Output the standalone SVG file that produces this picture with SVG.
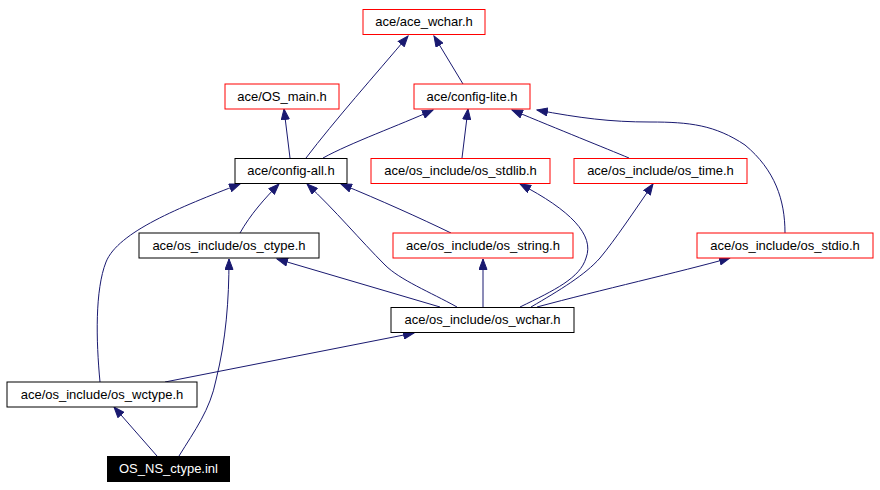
<svg xmlns="http://www.w3.org/2000/svg" width="880" height="490" viewBox="0 0 880 490">
<style>
.n rect{fill:#fff;stroke:#000;stroke-width:1}
.n.r rect{stroke:#f00}
.n text{font-family:"Liberation Sans",Arial,sans-serif;font-size:13px;text-anchor:middle;fill:#000}
#n_osnsctype rect{fill:#000;stroke:#000}
#n_osnsctype text{fill:#fff}
.e path{fill:none;stroke:#191970;stroke-width:1;marker-end:url(#ah)}
</style>
<defs>
<marker id="ah" markerUnits="userSpaceOnUse" markerWidth="12" markerHeight="9" refX="11" refY="4.5" orient="auto">
<path d="M0.5,0.5 L11,4.5 L0.5,8.5 z" fill="#191970" stroke="#191970" stroke-width="1"/>
</marker>
</defs>
<rect width="880" height="490" fill="#fff"/>
<g id="edges" class="e">
<path d="M306,158 C335,120 375,75 408,36"/>
<path d="M463,84 L434,36"/>
<path d="M290,158 L284,109"/>
<path d="M323,158 C350,143 400,125 433,110"/>
<path d="M462,158 L468,109"/>
<path d="M629,158 C605,148 560,130 512,110"/>
<path d="M785,233 C785,200 775,170 745,145 C715,125 690,122 650,122 C610,122 580,118 537,110"/>
<path d="M240,233 C250,215 265,198 279,184"/>
<path d="M100,382 C96,340 95,290 106,262 C118,232 180,207 240,184"/>
<path d="M457,307 C430,292 400,280 385,265 C360,240 335,210 307,184"/>
<path d="M451,233 C420,218 380,200 341,184"/>
<path d="M440,307 L277,259"/>
<path d="M483,307 L483,259"/>
<path d="M520,307 C555,290 580,278 586,258 C595,235 570,210 520,184"/>
<path d="M531,307 C560,290 585,275 600,258 C615,240 635,210 653,184"/>
<path d="M537,307 C600,290 680,272 730,258"/>
<path d="M165,382 L414,333"/>
<path d="M157,456 L114,407"/>
<path d="M179,456 C195,430 210,410 216,380 C226,340 229,300 229,259"/>
</g>
<g id="n_acewchar" class="n r"><rect x="363" y="9.5" width="122" height="25"/><text x="424" y="26">ace/ace_wchar.h</text></g>
<g id="n_osmain" class="n r"><rect x="225" y="84" width="114" height="25"/><text x="282" y="101">ace/OS_main.h</text></g>
<g id="n_configlite" class="n r"><rect x="414" y="84" width="116" height="25"/><text x="472" y="101">ace/config-lite.h</text></g>
<g id="n_configall" class="n"><rect x="235" y="158.5" width="112" height="25"/><text x="291" y="175">ace/config-all.h</text></g>
<g id="n_osstdlib" class="n r"><rect x="371" y="158.5" width="179" height="25"/><text x="460.5" y="175">ace/os_include/os_stdlib.h</text></g>
<g id="n_ostime" class="n r"><rect x="574" y="158.5" width="173" height="25"/><text x="660.5" y="175">ace/os_include/os_time.h</text></g>
<g id="n_osctype" class="n"><rect x="139" y="233" width="180" height="25"/><text x="229" y="250">ace/os_include/os_ctype.h</text></g>
<g id="n_osstring" class="n r"><rect x="393" y="233" width="180" height="25"/><text x="483" y="250">ace/os_include/os_string.h</text></g>
<g id="n_osstdio" class="n r"><rect x="697" y="233" width="176" height="25"/><text x="785" y="250">ace/os_include/os_stdio.h</text></g>
<g id="n_oswchar" class="n"><rect x="391" y="307.5" width="183" height="25"/><text x="482.5" y="324">ace/os_include/os_wchar.h</text></g>
<g id="n_oswctype" class="n"><rect x="7" y="382" width="190" height="25"/><text x="102" y="399">ace/os_include/os_wctype.h</text></g>
<g id="n_osnsctype" class="n"><rect x="107.5" y="456.5" width="122" height="25"/><text x="168.5" y="473">OS_NS_ctype.inl</text></g>
</svg>
